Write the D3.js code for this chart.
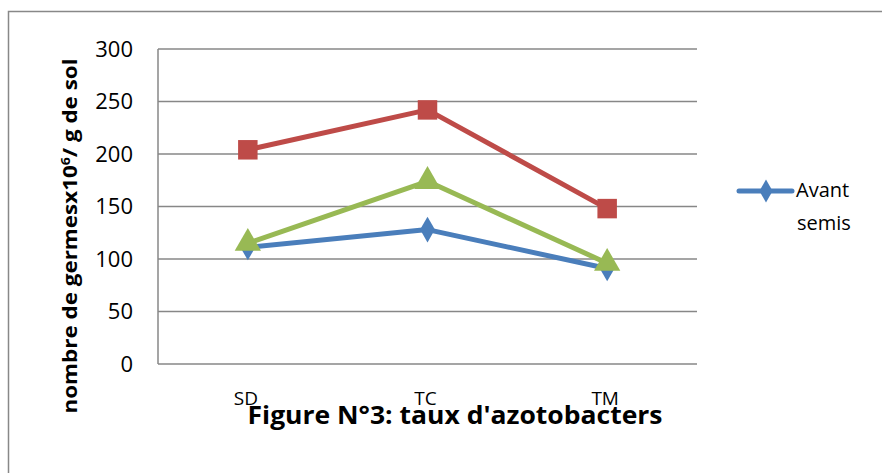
<!DOCTYPE html>
<html>
<head>
<meta charset="utf-8">
<script src="https://cdn.jsdelivr.net/npm/d3@7"></script>
<style>
  body { margin: 0; background: #fff; }
  text { font-family: "Open Sans", sans-serif; fill: #000; }
</style>
</head>
<body>
<div id="chart"></div>
<script>
// data
var categories = ["SD", "TC", "TM"];
var avantSemis = [111, 128, 91];     // blue, diamonds
var serieRouge = [204, 242, 148];    // red, squares
var serieVerte = [115, 174, 96];     // green, triangles
var yTicks = [0, 50, 100, 150, 200, 250, 300];

var width = 882, height = 473;

var svg = d3.select("#chart").append("svg")
    .attr("width", width)
    .attr("height", height);

// outer frame (runs off the bottom / right of the picture)
svg.append("rect")
    .attr("x", 8.5).attr("y", 11.5)
    .attr("width", 900).attr("height", 500)
    .style("fill", "none")
    .style("stroke", "#888")
    .style("stroke-width", 1.5);

var x = d3.scaleBand().domain(categories).range([158, 697]);
var y = d3.scaleLinear().domain([0, 300]).range([364, 49]);

// grid
svg.append("g").selectAll("line")
    .data(yTicks)
    .enter().append("line")
    .attr("x1", 158).attr("x2", 697)
    .attr("y1", function(d) { return y(d); })
    .attr("y2", function(d) { return y(d); })
    .style("stroke", "#878787")
    .style("stroke-width", 1.5);

svg.append("line")
    .attr("x1", 158).attr("x2", 158)
    .attr("y1", y(300)).attr("y2", y(0))
    .style("stroke", "#878787")
    .style("stroke-width", 1.5);

// y axis labels
var yAxis = d3.axisLeft(y).tickValues(yTicks).tickSize(0).tickPadding(25);
var ga = svg.append("g").attr("transform", "translate(158,0)").call(yAxis);
ga.select(".domain").remove();
ga.selectAll("text")
    .style("font-family", "'Open Sans', sans-serif")
    .style("font-size", "22px")
    .attr("fill", "#000");

// x labels
svg.append("g").selectAll("text")
    .data(categories)
    .enter().append("text")
    .attr("x", function(d) { return x(d) + x.bandwidth() / 2 - 2; })
    .attr("y", 405)
    .attr("text-anchor", "middle")
    .style("font-size", "19px")
    .text(function(d) { return d; });

// y axis title
var yt = svg.append("text")
    .attr("transform", "translate(77,236) rotate(-90)")
    .attr("text-anchor", "middle")
    .attr("textLength", 355)
    .attr("lengthAdjust", "spacingAndGlyphs")
    .style("font-size", "19px")
    .style("font-weight", "bold");
yt.append("tspan").text("nombre de germesx10");
yt.append("tspan").attr("dy", -7).style("font-size", "12px").text("6");
yt.append("tspan").attr("dy", 7).text("/ g de sol");

// caption
svg.append("text")
    .attr("x", 455).attr("y", 424)
    .attr("text-anchor", "middle")
    .attr("textLength", 415)
    .attr("lengthAdjust", "spacingAndGlyphs")
    .style("font-size", "25px")
    .style("font-weight", "bold")
    .text("Figure N°3: taux d'azotobacters");

var line = d3.line()
    .x(function(d, i) { return x(categories[i]) + x.bandwidth() / 2; })
    .y(function(d) { return y(d); });

var series = [
    { name: "Avant semis", values: avantSemis, color: "#4A7EBB", symbol: d3.symbolDiamond, size: 190 },
    { name: "serie 2", values: serieRouge, color: "#BE4B48", symbol: d3.symbolSquare, size: 380 },
    { name: "serie 3", values: serieVerte, color: "#98B954", symbol: d3.symbolTriangle, size: 300 }
];

series.forEach(function(s) {
    svg.append("path")
        .datum(s.values)
        .attr("d", line)
        .style("fill", "none")
        .style("stroke", s.color)
        .style("stroke-width", 5)
        .style("stroke-linejoin", "round");
    svg.append("g").selectAll("path")
        .data(s.values)
        .enter().append("path")
        .attr("transform", function(d, i) {
            return "translate(" + (x(categories[i]) + x.bandwidth() / 2) + "," + y(d) + ")";
        })
        .attr("d", d3.symbol().type(s.symbol).size(s.size))
        .style("fill", s.color);
});

// legend (only the first series is visible in the original)
var lg = svg.append("g");
lg.append("line")
    .attr("x1", 739).attr("x2", 792)
    .attr("y1", 191).attr("y2", 191)
    .style("stroke", "#4A7EBB")
    .style("stroke-width", 5)
    .style("stroke-linecap", "round");
lg.append("path")
    .attr("transform", "translate(766,191)")
    .attr("d", d3.symbol().type(d3.symbolDiamond).size(150))
    .style("fill", "#4A7EBB");
lg.append("text").attr("x", 796).attr("y", 197).style("font-size", "20px").text("Avant");
lg.append("text").attr("x", 797).attr("y", 230).style("font-size", "20px").text("semis");
</script>
</body>
</html>
